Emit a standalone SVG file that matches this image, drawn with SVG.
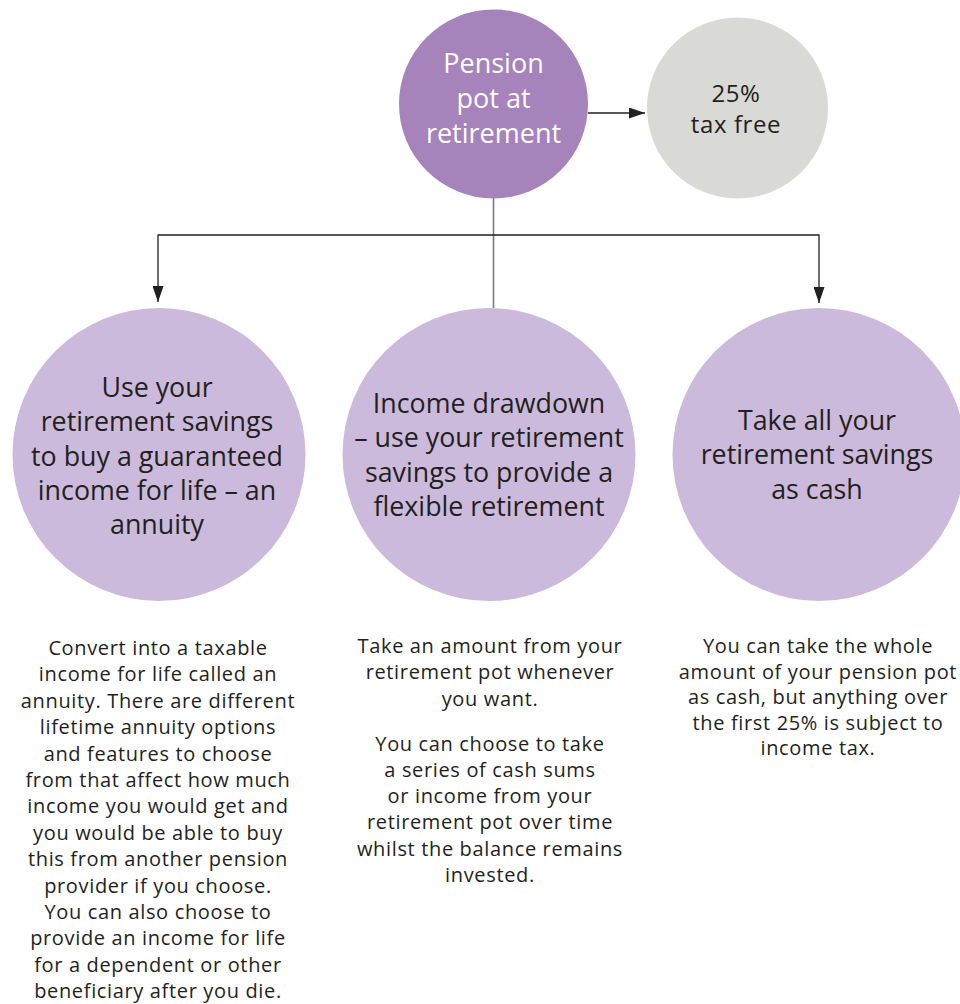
<svg xmlns="http://www.w3.org/2000/svg" width="960" height="1004" viewBox="0 0 960 1004">
<style>
.bg{fill:#ffffff}
.c-top{fill:#a683bb}
.c-grey{fill:#d9dad5}
.c-opt{fill:#cbbadb}
.t-top{font-family:"Open Sans","Liberation Sans",sans-serif;font-size:27px;fill:#ffffff;text-anchor:middle}
.t-opt{font-family:"Open Sans","Liberation Sans",sans-serif;font-size:26.8px;fill:#231f20;text-anchor:middle}
.t-grey{font-family:"Open Sans","Liberation Sans",sans-serif;font-size:24px;letter-spacing:0.6px;fill:#231f20;text-anchor:middle}
.t-body{font-family:"Open Sans","Liberation Sans",sans-serif;font-size:20px;letter-spacing:0.65px;fill:#231f20;text-anchor:middle}
.ln-dark{stroke:#231f20;stroke-width:1.3;fill:none}
.ln-grey{stroke:#7a7a7a;stroke-width:1.6;fill:none}
</style>
<defs>
<marker id="arrow" viewBox="0 0 16 11" refX="16" refY="5.5" markerWidth="16" markerHeight="11" markerUnits="userSpaceOnUse" orient="auto">
<path d="M0,0 L16,5.5 L0,11 Z" fill="#231f20"/>
</marker>
</defs>
<rect class="bg" x="0" y="0" width="960" height="1004"/>

<g id="connectors">
<line class="ln-dark" x1="588" y1="113" x2="645" y2="113" marker-end="url(#arrow)"/>
<line class="ln-grey" x1="493.5" y1="198" x2="493.5" y2="308"/>
<polyline class="ln-dark" points="158,235 819,235 819,303" marker-end="url(#arrow)"/>
<line class="ln-dark" x1="158" y1="234.4" x2="158" y2="302" marker-end="url(#arrow)"/>
</g>

<g id="node-pension">
<circle class="c-top" cx="493.5" cy="104" r="94.5"/>
<text class="t-top"><tspan x="493.5" y="73">Pension</tspan><tspan x="493.5" y="108">pot at</tspan><tspan x="493.5" y="143">retirement</tspan></text>
</g>

<g id="node-taxfree">
<circle class="c-grey" cx="737.5" cy="108" r="90.5"/>
<text class="t-grey"><tspan x="736" y="102">25%</tspan><tspan x="736" y="133">tax free</tspan></text>
</g>

<g id="node-annuity">
<circle class="c-opt" cx="159" cy="454.5" r="146.5"/>
<text class="t-opt"><tspan x="157" y="397">Use your</tspan><tspan x="157" y="431.3">retirement savings</tspan><tspan x="157" y="465.6">to buy a guaranteed</tspan><tspan x="157" y="499.9">income for life – an</tspan><tspan x="157" y="534.2">annuity</tspan></text>
<text class="t-body"><tspan x="158" y="655">Convert into a taxable</tspan><tspan x="158" y="681.4">income for life called an</tspan><tspan x="158" y="707.8">annuity. There are different</tspan><tspan x="158" y="734.2">lifetime annuity options</tspan><tspan x="158" y="760.6">and features to choose</tspan><tspan x="158" y="787">from that affect how much</tspan><tspan x="158" y="813.4">income you would get and</tspan><tspan x="158" y="839.8">you would be able to buy</tspan><tspan x="158" y="866.2">this from another pension</tspan><tspan x="158" y="892.6">provider if you choose.</tspan><tspan x="158" y="919">You can also choose to</tspan><tspan x="158" y="945.4">provide an income for life</tspan><tspan x="158" y="971.8">for a dependent or other</tspan><tspan x="158" y="998.2">beneficiary after you die.</tspan></text>
</g>

<g id="node-drawdown">
<circle class="c-opt" cx="489" cy="454.5" r="146.5"/>
<text class="t-opt"><tspan x="489" y="413">Income drawdown</tspan><tspan x="489" y="447.3">– use your retirement</tspan><tspan x="489" y="481.6">savings to provide a</tspan><tspan x="489" y="515.9">flexible retirement</tspan></text>
<text class="t-body"><tspan x="490" y="653">Take an amount from your</tspan><tspan x="490" y="679.3">retirement pot whenever</tspan><tspan x="490" y="705.6">you want.</tspan><tspan x="490" y="750.5">You can choose to take</tspan><tspan x="490" y="776.8">a series of cash sums</tspan><tspan x="490" y="803.1">or income from your</tspan><tspan x="490" y="829.4">retirement pot over time</tspan><tspan x="490" y="855.7">whilst the balance remains</tspan><tspan x="490" y="882">invested.</tspan></text>
</g>

<g id="node-cash">
<circle class="c-opt" cx="819" cy="454.5" r="146.5"/>
<text class="t-opt"><tspan x="817" y="430">Take all your</tspan><tspan x="817" y="464.3">retirement savings</tspan><tspan x="817" y="498.6">as cash</tspan></text>
<text class="t-body"><tspan x="818" y="653">You can take the whole</tspan><tspan x="818" y="678.5">amount of your pension pot</tspan><tspan x="818" y="704">as cash, but anything over</tspan><tspan x="818" y="729.5">the first 25% is subject to</tspan><tspan x="818" y="755">income tax.</tspan></text>
</g>
</svg>
